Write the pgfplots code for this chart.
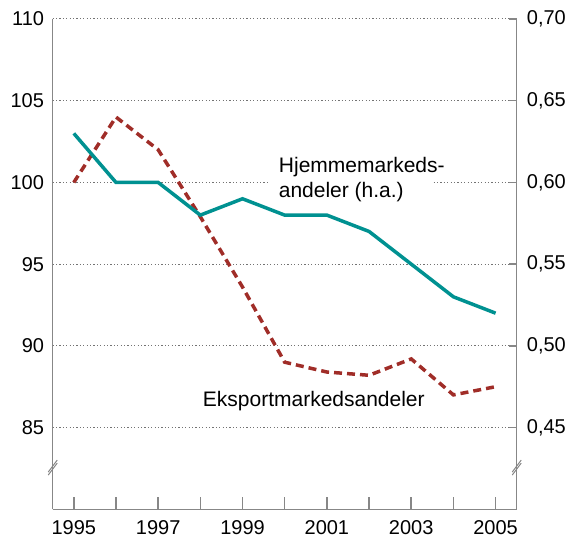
\documentclass[border=0pt]{standalone}
\usepackage{pgfplots}
\pgfplotsset{compat=1.18}
\usepackage{fontspec}
\setmainfont{Liberation Sans}
\definecolor{tealc}{RGB}{0,145,145}
\definecolor{redc}{RGB}{160,45,40}
\definecolor{axgray}{RGB}{135,135,135}

\begin{document}
\begin{tikzpicture}
\pgfplotsset{
  every axis/.append style={
    scale only axis, width=464pt, height=490.3pt,
    xmin=1994.5, xmax=2005.5,
    tick label style={font=\fontsize{20}{24}\selectfont},
    /pgf/number format/assume math mode=true,
  }
}
\begin{axis}[
  ymin=80, ymax=110,
  axis x line*=bottom, axis y line*=left,
  axis line style={-, draw=axgray, line width=1.3pt},
  xtick={1995,1996,1997,1998,1999,2000,2001,2002,2003,2004,2005},
  xticklabels={1995,,1997,,1999,,2001,,2003,,2005},
  xticklabel style={anchor=north, inner sep=0pt, yshift=-11pt},
  yticklabel style={anchor=east, inner sep=0pt, xshift=-8.5pt},
  x tick style={draw=axgray, line width=1.5pt},
  tick align=inside, major tick length=12.5pt,
  ytick={85,90,95,100,105,110},
  y tick style={draw=none},
  ymajorgrids,
  major grid style={draw=black!55, line width=1pt, dash pattern=on 1.2pt off 2.2pt},
  clip=false,
]
\addplot[redc, line width=3.5pt, dash pattern=on 8pt off 5pt] coordinates {
(1995,100) (1996,104.0) (1997,102.0) (1998,97.9) (1999,93.6) (2000,89.0)
(2001,88.4) (2002,88.2) (2003,89.2) (2004,87.0) (2005,87.5)};
\node[anchor=base, inner sep=0, font=\fontsize{21}{24}\selectfont] at (axis cs:2000.69,86.28) {Eksportmarkedsandeler};
\node[anchor=base west, inner sep=0, font=\fontsize{21}{24}\selectfont] at (axis cs:1999.86,100.59) {Hjemmemarkeds-};
\node[anchor=base west, fill=white, inner xsep=0, inner ysep=2pt, font=\fontsize{21}{24}\selectfont] at (axis cs:1999.62,99.06) {\hspace*{10pt}andeler (h.a.)\hspace*{27pt}};
\draw[axgray, line width=1pt] ([shift={(-4.5pt,-7.5pt)}]axis cs:1994.5,82.55) -- ++(9pt,12pt);
\draw[axgray, line width=1pt] ([shift={(-4.5pt,-4.5pt)}]axis cs:1994.5,82.55) -- ++(9pt,12pt);
\draw[axgray, line width=1pt] ([shift={(-4.5pt,-7.5pt)}]axis cs:2005.5,82.55) -- ++(9pt,12pt);
\draw[axgray, line width=1pt] ([shift={(-4.5pt,-4.5pt)}]axis cs:2005.5,82.55) -- ++(9pt,12pt);
\end{axis}
\begin{axis}[
  ymin=0.40, ymax=0.70,
  axis x line=none, axis y line*=right,
  axis line style={-, draw=axgray, line width=1.3pt},
  ytick={0.45,0.5,0.55,0.6,0.65,0.7},
  y tick style={draw=axgray, line width=1.3pt},
  tick align=inside, major tick length=8pt,
  yticklabel style={anchor=west, inner sep=0pt, xshift=10pt, /pgf/number format/.cd, fixed, fixed zerofill, precision=2, use comma},
]
\addplot[tealc, line width=3.5pt] coordinates {
(1995,0.63) (1996,0.60) (1997,0.60) (1998,0.58) (1999,0.59) (2000,0.58)
(2001,0.58) (2002,0.57) (2003,0.55) (2004,0.53) (2005,0.52)};
\coordinate (bl) at (rel axis cs:0,0);
\coordinate (tr) at (rel axis cs:1,1);
\end{axis}
\path ([shift={(-52.7pt,-28.7pt)}]bl) rectangle ([shift={(51.3pt,19pt)}]tr);
\end{tikzpicture}
\end{document}
